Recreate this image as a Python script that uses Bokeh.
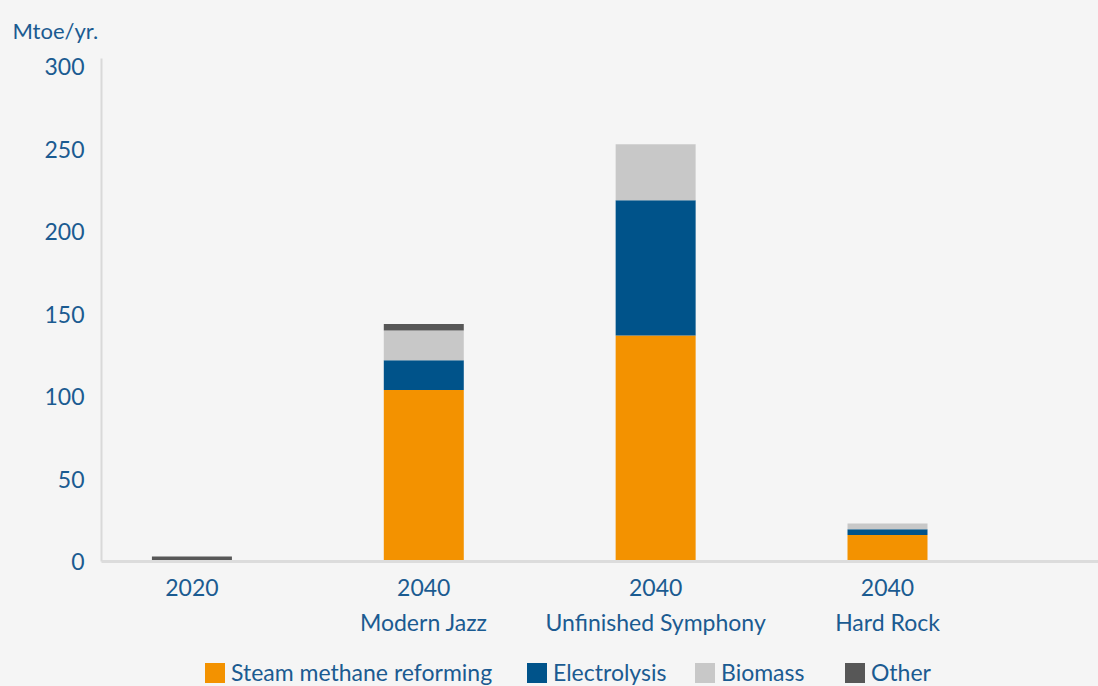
from bokeh.plotting import figure
from bokeh.layouts import column
from bokeh.models import (ColumnDataSource, LinearAxis, FixedTicker, Range1d, Legend, LegendItem)
from bokeh.embed import file_html
from bokeh.resources import INLINE

categories = ["2020", "2040", "2040", "2040"]
scenarios = ["", "Modern Jazz", "Unfinished Symphony", "Hard Rock"]
steam_methane = [0, 104, 137, 16]
electrolysis = [0, 18, 82, 3.5]
biomass = [0, 18, 34, 3.5]
other = [3, 4, 0, 0]
series = ["Steam methane reforming", "Electrolysis", "Biomass", "Other"]
colors = ["#f39200", "#00538a", "#c8c8c8", "#575757"]
y_ticks = [0, 50, 100, 150, 200, 250, 300]

FONT = "Lato"
TXT = "#1b5b91"
BG = "#f5f5f5"
FS = "23px"

xs = list(range(len(categories)))
source = ColumnDataSource(dict(x=xs, s0=steam_methane, s1=electrolysis, s2=biomass, s3=other))

p = figure(frame_width=997, frame_height=503, output_backend="svg", toolbar_location=None,
           x_range=Range1d(-0.39, 3.91), y_range=Range1d(0, 305),
           x_axis_location=None, y_axis_location=None,
           min_border_left=101, min_border_top=58, min_border_right=0, min_border_bottom=97,
           background_fill_color=BG, border_fill_color=BG, outline_line_color=None)
p.xgrid.visible = False
p.ygrid.visible = False

p.title.text = "Mtoe/yr."
p.title.align = "left"
p.title.offset = -89
p.title.standoff = 29
p.title.text_font = FONT
p.title.text_font_size = "22px"
p.title.text_font_style = "normal"
p.title.text_color = TXT

renderers = p.vbar_stack(["s0", "s1", "s2", "s3"], x="x", width=0.345, source=source,
                         color=colors, line_color=None)

def style(ax):
    ax.major_tick_line_color = None
    ax.minor_tick_line_color = None
    ax.major_tick_out = 0
    ax.major_tick_in = 0
    ax.minor_tick_out = 0
    ax.minor_tick_in = 0
    ax.major_label_text_font = FONT
    ax.major_label_text_font_size = FS
    ax.major_label_text_color = TXT

# y axis
yax = LinearAxis(ticker=FixedTicker(ticks=y_ticks))
style(yax)
yax.axis_line_color = "#d9d9d9"
yax.axis_line_width = 2
yax.major_label_standoff = 17
p.add_layout(yax, "left")

# x axis 1 (years)
xax = LinearAxis(ticker=FixedTicker(ticks=xs))
style(xax)
xax.major_label_overrides = {i: c for i, c in zip(xs, categories)}
xax.axis_line_color = "#dcdcdc"
xax.axis_line_width = 3
xax.major_label_standoff = 17
p.add_layout(xax, "below")

# x axis 2 (scenario names)
xax2 = LinearAxis(ticker=FixedTicker(ticks=xs))
style(xax2)
xax2.major_label_overrides = {i: s if s else " " for i, s in zip(xs, scenarios)}
xax2.axis_line_color = None
xax2.major_label_standoff = 9
p.add_layout(xax2, "below")

# legend strip (its frame is aligned with the main frame by the column layout)
leg_x = [101, 423, 591, 741]
p2 = figure(frame_width=997, height=28, output_backend="svg", toolbar_location=None,
            x_range=Range1d(0, 1), y_range=Range1d(0, 1),
            x_axis_location=None, y_axis_location=None,
            min_border_left=101, min_border_right=0, min_border_top=0, min_border_bottom=0,
            background_fill_color=BG, border_fill_color=BG, outline_line_color=None)
p2.xgrid.visible = False
p2.ygrid.visible = False
for name, col, lx in zip(series, colors, leg_x):
    # invisible zero-size proxy glyph that only supplies the legend swatch
    r = p2.vbar(x=[-5], top=[0], width=0, color=col, line_color=None)
    lg = Legend(items=[LegendItem(label=name, renderers=[r])], location=(lx, 0),
                label_text_font=FONT, label_text_font_size=FS, label_text_color=TXT,
                glyph_width=25, glyph_height=25, label_standoff=4,
                background_fill_alpha=0, border_line_color=None, padding=0, margin=0)
    p2.add_layout(lg, "center")

layout = column(p, p2, spacing=0, styles={"background-color": BG})
open("out.html", "w").write(file_html(layout, INLINE))
